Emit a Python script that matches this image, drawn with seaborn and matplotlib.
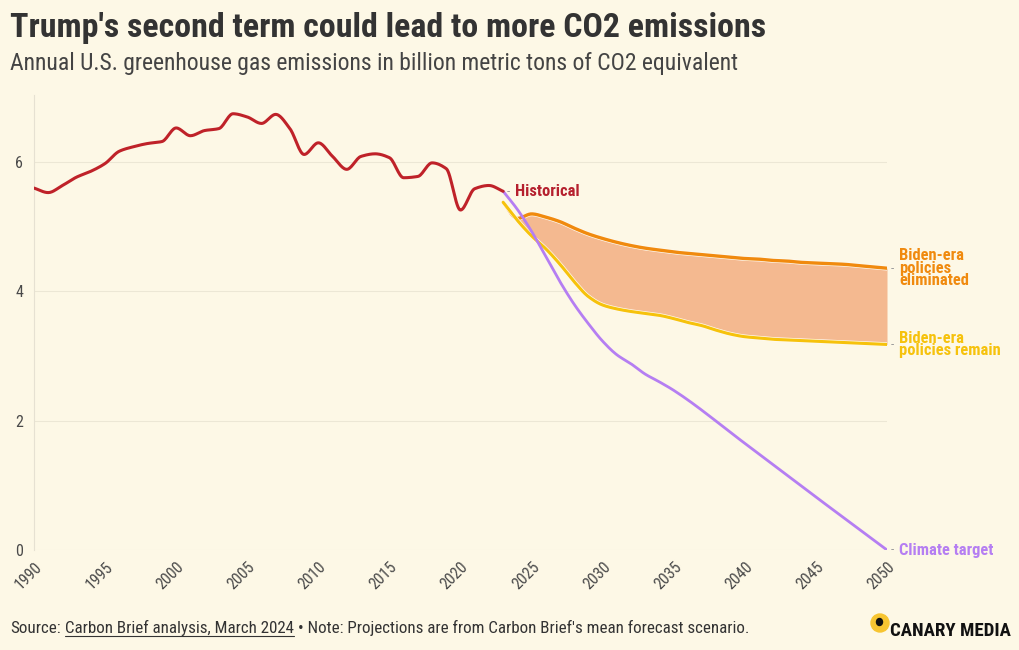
import numpy as np
import pandas as pd
import matplotlib
matplotlib.use("Agg")
import matplotlib.pyplot as plt
import matplotlib.patheffects as pe
from matplotlib import font_manager as fm
from matplotlib.lines import Line2D
from matplotlib.patches import Ellipse
import seaborn as sns

# ---------------- data ----------------
hist_years = list(range(1990, 2024))
historical = [5.60, 5.53, 5.64, 5.77, 5.86, 5.98, 6.17, 6.24, 6.29, 6.32,
              6.53, 6.41, 6.49, 6.52, 6.75, 6.70, 6.60, 6.74, 6.52, 6.12,
              6.30, 6.09, 5.89, 6.09, 6.13, 6.07, 5.76, 5.78, 5.99, 5.90,
              5.26, 5.59, 5.64, 5.55]

proj_years = list(range(2023, 2051))
eliminated = [5.38, 5.13, 5.20, 5.15, 5.08, 4.98, 4.89, 4.82, 4.76, 4.71,
              4.67, 4.64, 4.61, 4.59, 4.57, 4.55, 4.53, 4.51, 4.50, 4.48,
              4.47, 4.45, 4.44, 4.43, 4.42, 4.40, 4.38, 4.36]
remain = [5.38, 5.10, 4.86, 4.66, 4.42, 4.15, 3.92, 3.79, 3.73, 3.69,
          3.66, 3.63, 3.58, 3.52, 3.47, 3.40, 3.34, 3.30, 3.28, 3.26,
          3.25, 3.24, 3.23, 3.22, 3.21, 3.20, 3.19, 3.18]

climate_years = [2023, 2024, 2025, 2026, 2027, 2028, 2029, 2030, 2031,
                 2032, 2033, 2034, 2035, 2040, 2045, 2050]
climate = [5.55, 5.27, 4.93, 4.54, 4.15, 3.80, 3.50, 3.23, 3.02,
           2.88, 2.72, 2.60, 2.47, 1.65, 0.82, 0.0]

x_ticks = list(range(1990, 2051, 5))
y_ticks = [0, 2, 4, 6]

TITLE = "Trump's second term could lead to more CO2 emissions"
SUBTITLE = "Annual U.S. greenhouse gas emissions in billion metric tons of CO2 equivalent"

# ---------------- style ----------------
BG = "#fdf8e6"
C_HIST = "#bf2229"
C_HIST_T = "#b5202e"
C_ELIM = "#f08a0e"
C_REM = "#f6c20c"
C_CLIM = "#b57ef2"
C_FILL = "#f4b990"

sns.set_style("white")
names = {f.name for f in fm.fontManager.ttflist}
FONT = "Roboto"
for cand in ["Roboto Condensed", "Liberation Sans Narrow", "Roboto"]:
    if cand in names:
        FONT = cand
        break
plt.rcParams["font.family"] = [FONT, "DejaVu Sans"]

W, H = 1020, 650
PT = 0.72  # px -> pt at dpi 100


def smooth(x, y, n=16):
    """Monotone cubic (Fritsch-Carlson) curve through the points, for drawing."""
    x = np.asarray(x, float)
    y = np.asarray(y, float)
    h = np.diff(x)
    d = np.diff(y) / h
    m = np.zeros_like(y)
    m[0], m[-1] = d[0], d[-1]
    for i in range(1, len(y) - 1):
        if d[i - 1] * d[i] <= 0:
            m[i] = 0
        else:
            w1 = 2 * h[i] + h[i - 1]
            w2 = h[i] + 2 * h[i - 1]
            m[i] = (w1 + w2) / (w1 / d[i - 1] + w2 / d[i])
    xs, ys = [], []
    t = np.linspace(0, 1, n, endpoint=False)
    h00 = 2 * t**3 - 3 * t**2 + 1
    h10 = t**3 - 2 * t**2 + t
    h01 = -2 * t**3 + 3 * t**2
    h11 = t**3 - t**2
    for i in range(len(h)):
        xs.append(x[i] + t * h[i])
        ys.append(h00 * y[i] + h10 * h[i] * m[i] + h01 * y[i + 1] + h11 * h[i] * m[i + 1])
    xs.append([x[-1]])
    ys.append([y[-1]])
    return np.concatenate(xs), np.concatenate(ys)


fig = plt.figure(figsize=(W / 100, H / 100), dpi=100, facecolor=BG)
ax = fig.add_axes([34 / W, 1 - 550 / H, (887 - 34) / W, (550 - 95) / H])
ax.set_facecolor(BG)

# smoothed curves
hx, hy = smooth(hist_years, historical)
ex, ey = smooth(proj_years, eliminated)
rx, ry = smooth(proj_years, remain)
cx, cy = smooth(climate_years, climate)

mask = ex >= 2024.1
ax.fill_between(ex[mask], ry[mask], ey[mask], color=C_FILL, lw=0, zorder=1)

outline = lambda lw: [pe.Stroke(linewidth=lw + 1.0, foreground="#fffaf0"), pe.Normal()]

sns.lineplot(x=ex, y=ey, ax=ax, color=C_ELIM, lw=2.4, sort=False, zorder=3,
             path_effects=outline(2.4))
sns.lineplot(x=rx, y=ry, ax=ax, color=C_REM, lw=2.2, sort=False, zorder=3,
             path_effects=outline(2.2))
sns.lineplot(x=cx, y=cy, ax=ax, color=C_CLIM, lw=2.0, sort=False, zorder=4)
sns.lineplot(x=hx, y=hy, ax=ax, color=C_HIST, lw=2.2, sort=False, zorder=5)

ax.set_xlim(1990, 2050)
ax.set_ylim(0, 7.04)
ax.set_xlabel("")
ax.set_ylabel("")

ax.set_yticks(y_ticks)
ax.set_yticklabels([str(v) for v in y_ticks])
ax.set_xticks(x_ticks)
ax.set_xticklabels([str(v) for v in x_ticks], rotation=45, ha="right",
                   va="top", rotation_mode="anchor")
ax.yaxis.grid(True, color="#ece7d5", lw=0.8)
ax.xaxis.grid(False)
for s in ["top", "right", "bottom"]:
    ax.spines[s].set_visible(False)
ax.spines["left"].set_color("#e6e1d2")
ax.spines["left"].set_linewidth(0.8)
ax.tick_params(axis="y", length=0, pad=11 * PT, labelsize=16 * PT, labelcolor="#4a4a4a")
ax.tick_params(axis="x", length=5, width=0.8, color="#e3decf", pad=2,
               labelsize=16 * PT, labelcolor="#4a4a4a")
ax.set_axisbelow(True)


# direct labels
def end_label(x, y, text, color):
    ax.annotate("-", xy=(x, y), xytext=(4 * PT, 0), textcoords="offset points",
                ha="left", va="center", color="#9a9a9a", fontsize=13 * PT,
                annotation_clip=False)
    ax.annotate(text, xy=(x, y), xytext=(12 * PT, 0), textcoords="offset points",
                ha="left", va="center", color=color, fontsize=16.5 * PT,
                fontweight="bold", linespacing=0.8, annotation_clip=False)


end_label(hist_years[-1], historical[-1], "Historical", C_HIST_T)
end_label(proj_years[-1], eliminated[-1], "Biden-era\npolicies\neliminated", C_ELIM)
end_label(proj_years[-1], remain[-1], "Biden-era\npolicies remain", C_REM)
end_label(climate_years[-1], climate[-1], "Climate target", C_CLIM)

# titles
fig.canvas.draw()
r = fig.canvas.get_renderer()


def fit(t, target_px):
    bb = t.get_window_extent(r)
    t.set_fontsize(t.get_fontsize() * target_px / bb.width)


t_title = fig.text(10 / W, 1 - 37 / H, TITLE, fontsize=28 * PT, fontweight="bold",
                   color="#333333", ha="left", va="baseline")
fit(t_title, 757)
t_sub = fig.text(10 / W, 1 - 70 / H, SUBTITLE, fontsize=20 * PT, color="#444444",
                 ha="left", va="baseline")
fit(t_sub, 728)

# footer
fy = 1 - 633 / H
fs = 14 * PT
parts = [("Source:", False, 0), ("Carbon Brief analysis, March 2024", True, 4),
         ("\u2022 Note: Projections are from Carbon Brief's mean forecast scenario.", False, 4)]


def draw_footer(size):
    x = 10
    arts = []
    for s, ul, gap in parts:
        x += gap
        t = fig.text(x / W, fy, s, fontsize=size, color="#333333", ha="left", va="baseline")
        arts.append(t)
        bb = t.get_window_extent(r)
        if ul:
            ln = Line2D([bb.x0 / W, bb.x1 / W], [fy - 2.5 / H, fy - 2.5 / H],
                        transform=fig.transFigure, color="#333333", lw=0.8)
            fig.add_artist(ln)
            arts.append(ln)
        x = bb.x1
    return x - 10, arts


total, arts = draw_footer(fs)
if abs(total - 738) > 10:
    for a in arts:
        a.remove()
    draw_footer(fs * 738 / total)

# logo
fig.add_artist(Ellipse((880 / W, 1 - 623 / H), 18 / W, 18 / H, transform=fig.transFigure,
                       color="#f7c531", zorder=5))
fig.add_artist(Ellipse((879.5 / W, 1 - 622 / H), 6 / W, 7 / H, transform=fig.transFigure,
                       color="#111111", zorder=6))
t_logo = fig.text(890 / W, 1 - 636 / H, "CANARY MEDIA", fontsize=16 * PT, fontweight="bold",
                  color="#111111", ha="left", va="baseline")
fit(t_logo, 120)

fig.savefig("out.png", dpi=100, facecolor=BG)
